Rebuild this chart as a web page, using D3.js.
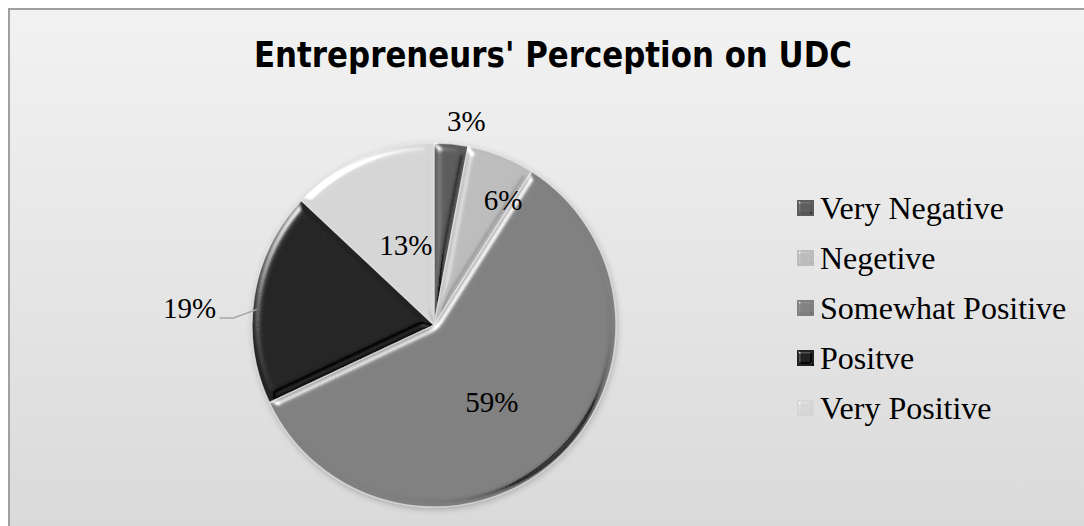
<!DOCTYPE html>
<html>
<head>
<meta charset="utf-8">
<script src="https://cdn.jsdelivr.net/npm/d3@7"></script>
<style>
  html, body { margin: 0; padding: 0; background: #fff; }
  svg { display: block; }
</style>
</head>
<body>
<svg id="chart" width="1084" height="526"></svg>
<script>
// data
var categories = ["Very Negative", "Negetive", "Somewhat Positive", "Positve", "Very Positive"];
var values = [3, 6, 59, 19, 13];
var labels = ["3%", "6%", "59%", "19%", "13%"];

// slice fills (grey theme)
var colors = ["#5c5c5c", "#bcbcbc", "#808080", "#242424", "#d6d6d6"];

// label placement: radius (px) and angle nudge (deg) relative to slice middle
var labelRadius = [207, 143, 96, 245, 85];
var labelNudge = [3.6, 7.3, 4.4, -5, 4.1];

var W = 1084, H = 526;
var cx = 434, cy = 325, r = 182;

var svg = d3.select("#chart");
var defs = svg.append("defs");

var bg = defs.append("linearGradient").attr("id", "bg")
    .attr("x1", 0).attr("y1", 0).attr("x2", 0).attr("y2", 1);
bg.append("stop").attr("offset", "0%").attr("stop-color", "#f2f2f2");
bg.append("stop").attr("offset", "100%").attr("stop-color", "#d9d9d9");

// bevel: light rim from upper left, darker rim from lower right
function makeBevel(id, blur, scale, hiK, loK) {
  var f = defs.append("filter").attr("id", id)
      .attr("x", "-10%").attr("y", "-10%").attr("width", "120%").attr("height", "120%");
  f.append("feGaussianBlur").attr("in", "SourceAlpha").attr("stdDeviation", blur).attr("result", "blur");
  var hi = f.append("feSpecularLighting").attr("in", "blur")
      .attr("surfaceScale", scale).attr("specularConstant", 0.9).attr("specularExponent", 30)
      .attr("lighting-color", "#ffffff").attr("result", "hi");
  hi.append("feDistantLight").attr("azimuth", 225).attr("elevation", 25);
  var lo = f.append("feSpecularLighting").attr("in", "blur")
      .attr("surfaceScale", scale).attr("specularConstant", 0.9).attr("specularExponent", 30)
      .attr("lighting-color", "#ffffff").attr("result", "lo");
  lo.append("feDistantLight").attr("azimuth", 45).attr("elevation", 25);
  f.append("feComposite").attr("in", "hi").attr("in2", "SourceAlpha").attr("operator", "in").attr("result", "hiIn");
  f.append("feComposite").attr("in", "lo").attr("in2", "SourceAlpha").attr("operator", "in").attr("result", "loIn");
  f.append("feComposite").attr("in", "SourceGraphic").attr("in2", "hiIn")
      .attr("operator", "arithmetic").attr("k1", 0).attr("k2", 1).attr("k3", hiK).attr("k4", 0).attr("result", "lit");
  f.append("feComposite").attr("in", "lit").attr("in2", "loIn")
      .attr("operator", "arithmetic").attr("k1", 0).attr("k2", 1).attr("k3", -loK).attr("k4", 0).attr("result", "shade");
  f.append("feComposite").attr("in", "shade").attr("in2", "SourceAlpha").attr("operator", "in");
}
makeBevel("bevel", 4, 6, 0.9, 0.4);
makeBevel("bevelSmall", 1.5, 4, 1.0, 0.5);

var shadow = defs.append("filter").attr("id", "shadow")
    .attr("x", "-20%").attr("y", "-20%").attr("width", "140%").attr("height", "140%");
shadow.append("feDropShadow").attr("dx", 1).attr("dy", 2).attr("stdDeviation", 3)
    .attr("flood-color", "#000").attr("flood-opacity", 0.25);

// chart area
svg.append("rect")
    .attr("x", 9).attr("y", 9)
    .attr("width", W + 10).attr("height", H + 10)
    .attr("fill", "url(#bg)")
    .attr("stroke", "#a0a0a0").attr("stroke-width", 2);

svg.append("text")
    .attr("x", 553).attr("y", 67)
    .attr("text-anchor", "middle")
    .attr("font-family", "'Liberation Sans Narrow', 'DejaVu Sans Condensed', 'Open Sans', sans-serif")
    .attr("font-weight", "bold")
    .attr("font-size", 35)
    .attr("textLength", 598).attr("lengthAdjust", "spacingAndGlyphs")
    .attr("fill", "#000")
    .text("Entrepreneurs' Perception on UDC");

var pie = d3.pie().sort(null).value(function(d) { return d; });
var arcs = pie(values);
var arc = d3.arc().innerRadius(0).outerRadius(r);

var g = svg.append("g").attr("transform", "translate(" + cx + "," + cy + ")");

g.append("g").attr("filter", "url(#shadow)")
  .selectAll("path")
  .data(arcs)
  .join("path")
    .attr("d", arc)
    .attr("fill", function(d, i) { return colors[i]; })
    .attr("stroke", "#e6e6e6")
    .attr("stroke-opacity", 0.7)
    .attr("stroke-width", 1.5)
    .attr("filter", "url(#bevel)");

function labelPoint(d, i) {
  var a = (d.startAngle + d.endAngle) / 2 + labelNudge[i] * Math.PI / 180;
  return [Math.sin(a) * labelRadius[i], -Math.cos(a) * labelRadius[i]];
}

// leader line for the outside 19% label
var li = 3;
var lp = labelPoint(arcs[li], li);
var edgeA = (arcs[li].startAngle + arcs[li].endAngle) / 2 - 4 * Math.PI / 180;
var edge = [Math.sin(edgeA) * (r - 4), -Math.cos(edgeA) * (r - 4)];
g.append("polyline")
    .attr("points", [[lp[0] + 30, lp[1] + 10], [lp[0] + 44, lp[1] + 10], edge].map(function(p) { return p.join(","); }).join(" "))
    .attr("fill", "none")
    .attr("stroke", "#a6a6a6")
    .attr("stroke-width", 1.5);

g.selectAll("text.lbl")
  .data(arcs)
  .join("text")
    .attr("class", "lbl")
    .attr("transform", function(d, i) { return "translate(" + labelPoint(d, i) + ")"; })
    .attr("text-anchor", "middle")
    .attr("dy", "0.35em")
    .attr("font-family", "'Liberation Serif', 'Times New Roman', serif")
    .attr("font-size", 29)
    .attr("fill", "#000")
    .text(function(d, i) { return labels[i]; });

// legend
var legendY = d3.scalePoint().domain(categories).range([208, 408]);
var row = svg.append("g").selectAll("g")
  .data(categories)
  .join("g")
    .attr("transform", function(d) { return "translate(797," + legendY(d) + ")"; });
row.append("rect")
    .attr("x", 0).attr("y", -8)
    .attr("width", 17).attr("height", 16)
    .attr("fill", function(d, i) { return colors[i]; })
    .attr("filter", "url(#bevelSmall)");
row.append("text")
    .attr("x", 23).attr("dy", "0.35em")
    .attr("font-family", "'Liberation Serif', 'Times New Roman', serif")
    .attr("font-size", 32)
    .attr("fill", "#000")
    .text(function(d) { return d; });
</script>
</body>
</html>
